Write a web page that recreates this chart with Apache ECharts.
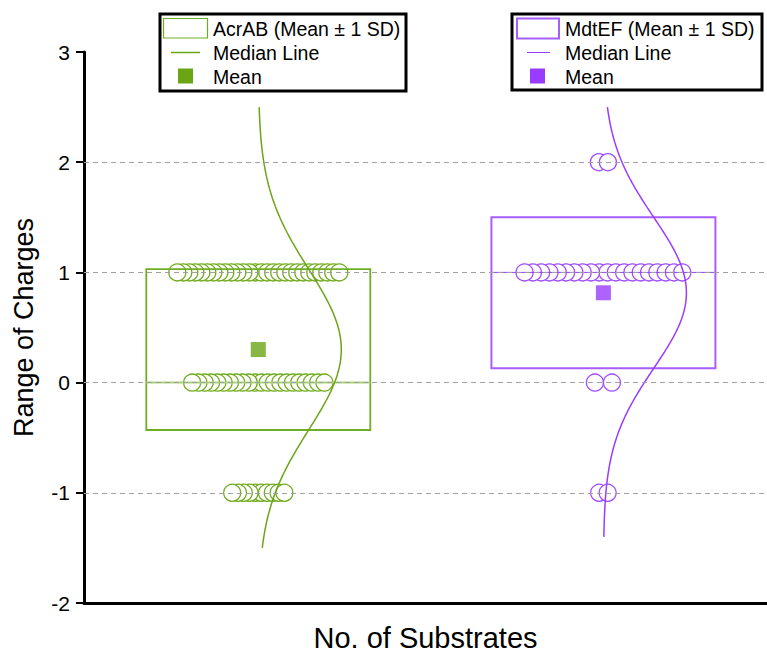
<!DOCTYPE html>
<html>
<head>
<meta charset="utf-8">
<style>
  html, body { margin: 0; padding: 0; background: #fff; overflow: hidden; }
  #chart { width: 767px; height: 657px; display: block; }
</style>
<script src="https://cdn.jsdelivr.net/npm/echarts@6/dist/echarts.min.js"></script>
</head>
<body>
<div id="chart"></div>
<script>
// Groups and the charge levels the substrates take
const categories = ['AcrAB', 'MdtEF'];
const chargeLevels = [-1, 0, 1, 2];
// Number of substrates at each charge level (same order as chargeLevels)
const acrabCounts = [10, 22, 28, 0];
const mdtefCounts = [2, 2, 20, 2];
// Summary statistics per group
const meanValues = [0.30, 0.815];
const sdValues = [0.73, 0.685];
const medianValues = [0, 1];
// Extent of the fitted normal curve along the charge axis
const curveRanges = [[-1.5, 2.5], [-1.4, 2.5]];
// Y axis ticks
const yMin = -2, yMax = 3, yStep = 1;
const gridLevels = [-1, 0, 1, 2];

// ---- layout / style ----
const FONT = '"Liberation Sans", Arial, sans-serif';
const GRID = { left: 84, right: 0, top: 52, bottom: 50 };
const X_MIN = 0.495, X_MAX = 2.474;
const CHART_W = 767;
const pxPerUnit = (CHART_W - GRID.left - GRID.right) / (X_MAX - X_MIN);
const boxHalf = 112 / pxPerUnit;
const curvePeak = 83 / pxPerUnit;
// horizontal spacing (px) between neighbouring circles in each row
const jitterPx = [[5.8, 6.3, 6, 6], [8.5, 17, 8.3, 9]];

const colors = {
  main:   ['#6aa514', '#9a3cff'],
  box:    ['#6fae24', '#a65eff'],
  boxW:   [1.8, 2],
  median: ['#a9d17a', '#9a3cff'],
  medW:   [2, 1],
  legendLine: ['#6aa514', '#9a3cff'],
  circle: ['#6fab1c', '#a04cff']
};

const countsByGroup = [acrabCounts, mdtefCounts];

function pointRows(g) {
  const pts = [];
  const center = g + 1;
  chargeLevels.forEach((lvl, i) => {
    const n = countsByGroup[g][i];
    const step = jitterPx[g][i] / pxPerUnit;
    const offs = [];
    for (let k = 0; k < n; k++) offs.push(k - (n - 1) / 2);
    // inner circles first so the outer ones sit on top
    offs.sort((a, b) => Math.abs(a) - Math.abs(b));
    offs.forEach(o => pts.push([center + o * step, lvl]));
  });
  return pts;
}

function normalCurve(g) {
  const pts = [];
  const m = meanValues[g], s = sdValues[g];
  const [lo, hi] = curveRanges[g];
  const n = 200;
  for (let k = 0; k <= n; k++) {
    const y = hi - (hi - lo) * k / n;
    const z = (y - m) / s;
    pts.push([g + 1 + curvePeak * Math.exp(-0.5 * z * z), y]);
  }
  return pts;
}

const boxData = categories.map((c, g) => [g + 1, meanValues[g], sdValues[g], medianValues[g]]);

const series = [
  {
    type: 'line', data: [], silent: true, z: 1,
    markLine: {
      silent: true, symbol: 'none', label: { show: false },
      lineStyle: { color: '#a0a0a0', type: [5, 4], width: 1 },
      data: gridLevels.map(v => ({ yAxis: v }))
    }
  }
];

categories.forEach((c, g) => {
  series.push({
    name: c + ' points', type: 'scatter', z: 2,
    symbol: 'circle', symbolSize: 17,
    itemStyle: { color: '#ffffff', borderColor: colors.circle[g], borderWidth: 1.3, opacity: 1 },
    data: pointRows(g), silent: true
  });
});

series.push({
  type: 'custom', z: 3, silent: true,
  data: boxData,
  renderItem(params, api) {
    const g = params.dataIndex;
    const x = api.value(0), m = api.value(1), s = api.value(2), med = api.value(3);
    const p1 = api.coord([x - boxHalf, m + s]);
    const p2 = api.coord([x + boxHalf, m - s]);
    const q1 = api.coord([x - boxHalf, med]);
    const q2 = api.coord([x + boxHalf, med]);
    return {
      type: 'group',
      children: [
        { type: 'rect', shape: { x: p1[0], y: p1[1], width: p2[0] - p1[0], height: p2[1] - p1[1] },
          style: { fill: 'none', stroke: colors.box[g], lineWidth: colors.boxW[g] } },
        { type: 'line', shape: { x1: q1[0], y1: q1[1], x2: q2[0], y2: q2[1] },
          style: { stroke: colors.median[g], lineWidth: colors.medW[g] } }
      ]
    };
  }
});

categories.forEach((c, g) => {
  series.push({
    name: c + ' curve', type: 'line', z: 4, silent: true,
    showSymbol: false, symbol: 'none', smooth: false,
    lineStyle: { color: colors.main[g], width: 1.5 },
    data: normalCurve(g)
  });
  series.push({
    name: c + ' mean', type: 'scatter', z: 5, silent: true,
    symbol: 'rect', symbolSize: 15,
    itemStyle: { color: colors.main[g] },
    data: [[g + 1, meanValues[g]]]
  });
});

// Legend panels
function legendPanel(g, box, iconRect, lineSeg, sq, textX) {
  const t = (txt, y) => ({ type: 'text', x: textX, y: y, z: 11,
    style: { text: txt, font: '19.5px ' + FONT, fill: '#000', verticalAlign: 'middle' } });
  return [
    { type: 'rect', shape: box, style: { fill: '#fff', stroke: '#000', lineWidth: 3 }, z: 10 },
    { type: 'rect', shape: iconRect, style: { fill: '#fff', stroke: colors.box[g], lineWidth: g === 0 ? 1.2 : 2 }, z: 11 },
    { type: 'line', shape: lineSeg, style: { stroke: colors.legendLine[g], lineWidth: g === 0 ? 1.5 : 1 }, z: 11 },
    { type: 'rect', shape: sq, style: { fill: colors.main[g] }, z: 11 },
    t(categories[g] + ' (Mean \u00b1 1 SD)', 29),
    t('Median Line', 53),
    t('Mean', 77)
  ];
}

const graphics = [].concat(
  legendPanel(0, { x: 160, y: 14, width: 246, height: 77 },
    { x: 163.5, y: 18.5, width: 44, height: 19.5 },
    { x1: 171, y1: 52.5, x2: 200, y2: 52.5 },
    { x: 178, y: 68.5, width: 15, height: 15 }, 213),
  legendPanel(1, { x: 512, y: 14, width: 250, height: 76 },
    { x: 517, y: 18.5, width: 42, height: 20 },
    { x1: 527, y1: 52.5, x2: 550, y2: 52.5 },
    { x: 530, y: 68.5, width: 15, height: 15 }, 565)
);

const chart = echarts.init(document.getElementById('chart'), null, { renderer: 'svg' });
chart.setOption({
  animation: false,
  backgroundColor: '#fff',
  grid: GRID,
  xAxis: {
    type: 'value', min: X_MIN, max: X_MAX,
    name: 'No. of Substrates', nameLocation: 'middle', nameGap: 20,
    nameTextStyle: { fontFamily: FONT, fontSize: 29, color: '#000' },
    axisLine: { show: true, onZero: false, lineStyle: { color: '#000', width: 3 } },
    axisTick: { show: false }, axisLabel: { show: false }, splitLine: { show: false }
  },
  yAxis: {
    type: 'value', min: yMin, max: yMax, interval: yStep,
    name: 'Range of Charges', nameLocation: 'middle', nameGap: 47,
    nameTextStyle: { fontFamily: FONT, fontSize: 27, color: '#000' },
    axisLine: { show: true, onZero: false, lineStyle: { color: '#000', width: 3 } },
    axisTick: { show: true, inside: false, length: 8, lineStyle: { color: '#000', width: 2 } },
    axisLabel: { fontFamily: FONT, fontSize: 21, color: '#000', margin: 14 },
    splitLine: { show: false }
  },
  graphic: graphics,
  series: series
});
</script>
</body>
</html>
